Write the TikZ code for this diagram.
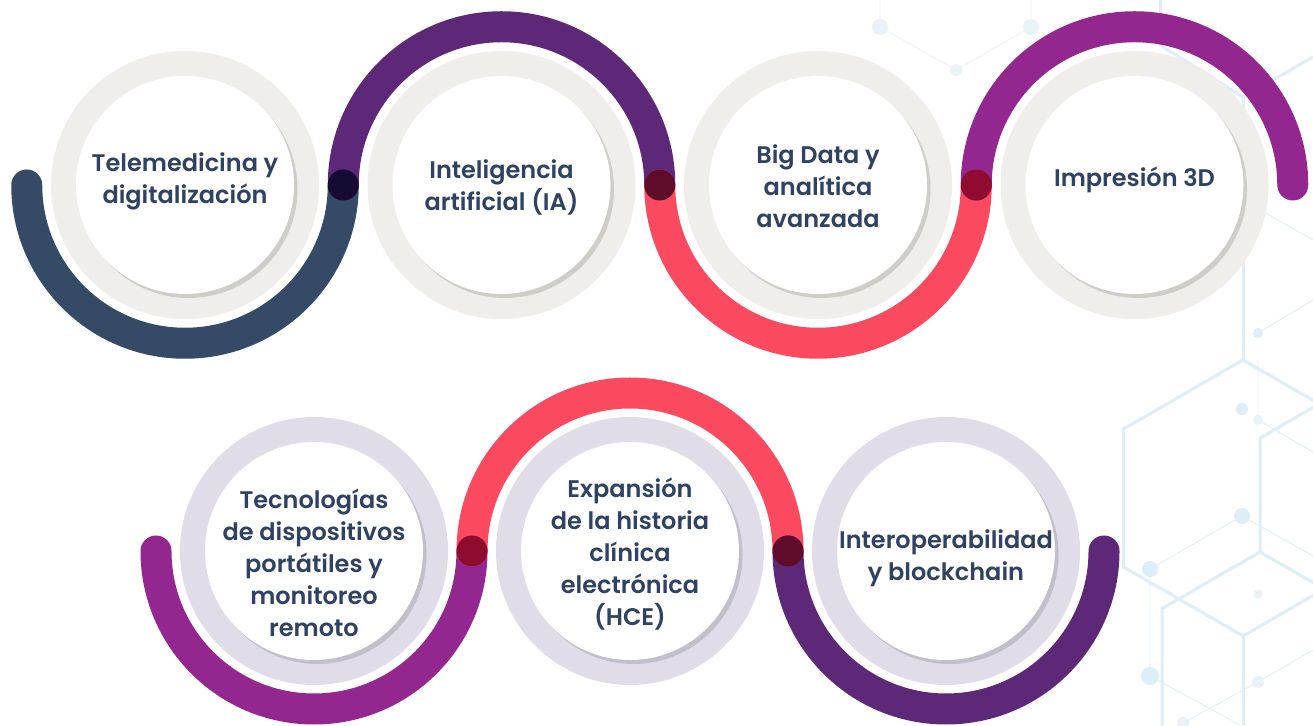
\documentclass[tikz,border=0pt]{standalone}
\usepackage{fontspec}
\newfontfamily\labfont{Poppins SemiBold}
\definecolor{cblue}{HTML}{344A66}
\definecolor{cpurple}{HTML}{5E2878}
\definecolor{cred}{HTML}{FB4A60}
\definecolor{cmag}{HTML}{93278F}
\definecolor{jone}{HTML}{150B33}
\definecolor{jtwo}{HTML}{5E0C2A}
\definecolor{jthree}{HTML}{8F0C30}
\definecolor{ringA}{HTML}{EFEEEA}
\definecolor{shadA}{HTML}{CFCDC8}
\definecolor{ringB}{HTML}{E0DDE8}
\definecolor{shadB}{HTML}{C0BFCA}
\definecolor{txt}{HTML}{2F4262}
\definecolor{hexc}{HTML}{DDEEF7}
\definecolor{hexd}{HTML}{E8F2F7}
\tikzset{
  band/.style={line width=31pt, line cap=round},
  lbl/.style={font=\labfont\fontsize{24}{32}\selectfont, text=txt, align=center, inner sep=0pt},
  hexline/.style={draw=hexc, line width=3pt},
  hexthin/.style={draw=hexc, line width=0.8pt},
  hexdot/.style={fill=hexc},
  hexdotl/.style={fill=hexd}
}
\begin{document}
\begin{tikzpicture}[x=1pt,y=1pt]
\useasboundingbox (0,0) rectangle (1313,725);
\fill[white] (0,0) rectangle (1313,725);
\begin{scope}[yshift=725pt,yscale=-1]
% ---------- background hexagon pattern ----------
\draw[hexline] (1243,360) -- (1123.5,429) -- (1123.5,567) -- (1243,636) -- (1362.5,567);
\draw[hexline] (1243,360) -- (1362.5,429);
\draw[hexline] (1243,636) -- (1243,725);
\draw[hexline] (1162,760) -- (1162,608.5) -- (1260,552) -- (1358,608.5);
\draw[hexline] (1260,552) -- (1260,438) -- (1340,392);
\draw[hexline] (1243,360) -- (1243,97);
\draw[hexline] (1160,45) -- (1243,97) -- (1313,57);
\draw[hexline] (1160,0) -- (1160,45);
\draw[hexthin] (1150,569) -- (1242,516) -- (1313,556);
\draw[hexthin] (1150,569) -- (1150,676) -- (1240,725);
\draw[hexthin] (1258,360) -- (1258,420) -- (1313,452);
\draw[hexthin] (1183,723) -- (1258,682) -- (1313,650);
\draw[hexthin] (1258,333) -- (1313,300);
\draw[hexthin] (1243,200) -- (1313,240);
\draw[hexthin, draw=hexd] (880,0) -- (880,27) -- (956,70) -- (1031,27) -- (1031,0);
\fill[hexdot] (1150,569) circle[radius=8];
\fill[hexdot] (1150,676) circle[radius=9];
\fill[hexdot] (1242,516) circle[radius=8];
\fill[hexdot] (1242,409) circle[radius=6];
\fill[hexdotl] (1258,420) circle[radius=5];
\fill[hexdotl] (1258,594) circle[radius=4.5];
\fill[hexdotl] (1258,682) circle[radius=6];
\fill[hexdotl] (1183,723) circle[radius=6];
\fill[hexdot] (1258,333) circle[radius=5];
\fill[hexdotl] (1150,35) circle[radius=8];
\fill[hexdotl] (1183,27) circle[radius=5];
\fill[hexdotl] (880,27) circle[radius=8];
\fill[hexdotl] (1031,27) circle[radius=8];
\fill[hexdotl] (956,70) circle[radius=6];
% ---------- centres ----------
\coordinate (t1) at (185,185);
\coordinate (t2) at (501.5,185);
\coordinate (t3) at (818,185);
\coordinate (t4) at (1134.5,185);
\coordinate (b1) at (314,551);
\coordinate (b2) at (630,551);
\coordinate (b3) at (946,551);
% ---------- rings ----------
\foreach \c in {t1,t2,t3,t4}{
  \fill[ringA] (\c) circle[radius=134];
  \fill[shadA] ([shift={(3.5,4)}]\c) circle[radius=109];
  \fill[white] (\c) circle[radius=109];
}
\foreach \c in {b1,b2,b3}{
  \fill[ringB] (\c) circle[radius=134];
  \fill[shadB] ([shift={(3.5,4)}]\c) circle[radius=109];
  \fill[white] (\c) circle[radius=109];
}
% ---------- top bands ----------
\coordinate (e0) at (26.75,185);
\coordinate (j1) at (343.25,185);
\coordinate (j2) at (659.75,185);
\coordinate (j3) at (976.25,185);
\draw[band,cblue] (e0) arc[start angle=180,end angle=0,radius=158.25];
\draw[band,cpurple] (j1) arc[start angle=180,end angle=360,radius=158.25];
\draw[band,cred] (j2) arc[start angle=180,end angle=0,radius=158.25];
\draw[band,cmag] (j3) arc[start angle=180,end angle=360,radius=158.25];
\fill[jone] (j1) circle[radius=15.5];
\fill[jtwo] (j2) circle[radius=15.5];
\fill[jthree] (j3) circle[radius=15.5];
% ---------- bottom bands ----------
\coordinate (f0) at (156,551);
\coordinate (k1) at (472,551);
\coordinate (k2) at (788,551);
\draw[band,cmag] (f0) arc[start angle=180,end angle=0,radius=158];
\draw[band,cred] (k1) arc[start angle=180,end angle=360,radius=158];
\draw[band,cpurple] (k2) arc[start angle=180,end angle=0,radius=158];
\fill[jthree] (k1) circle[radius=15.5];
\fill[jtwo] (k2) circle[radius=15.5];
% ---------- labels ----------
\node[lbl] (l1) at (185,181) {Telemedicina y\\digitalización};
\node[lbl] (l2) at (501.5,187) {Inteligencia\\artificial (IA)};
\node[lbl] (l3) at (818,186) {Big Data y\\analítica\\avanzada};
\node[lbl] (l4) at (1134.5,180) {Impresión 3D};
\node[lbl] (l5) at (314,563) {Tecnologías\\de dispositivos\\portátiles y\\monitoreo\\remoto};
\node[lbl] (l6) at (630,554) {Expansión\\de la historia\\clínica\\electrónica\\(HCE)};
\node[lbl] (l7) at (946,558) {Interoperabilidad\\y blockchain};
\end{scope}
\end{tikzpicture}
\end{document}
